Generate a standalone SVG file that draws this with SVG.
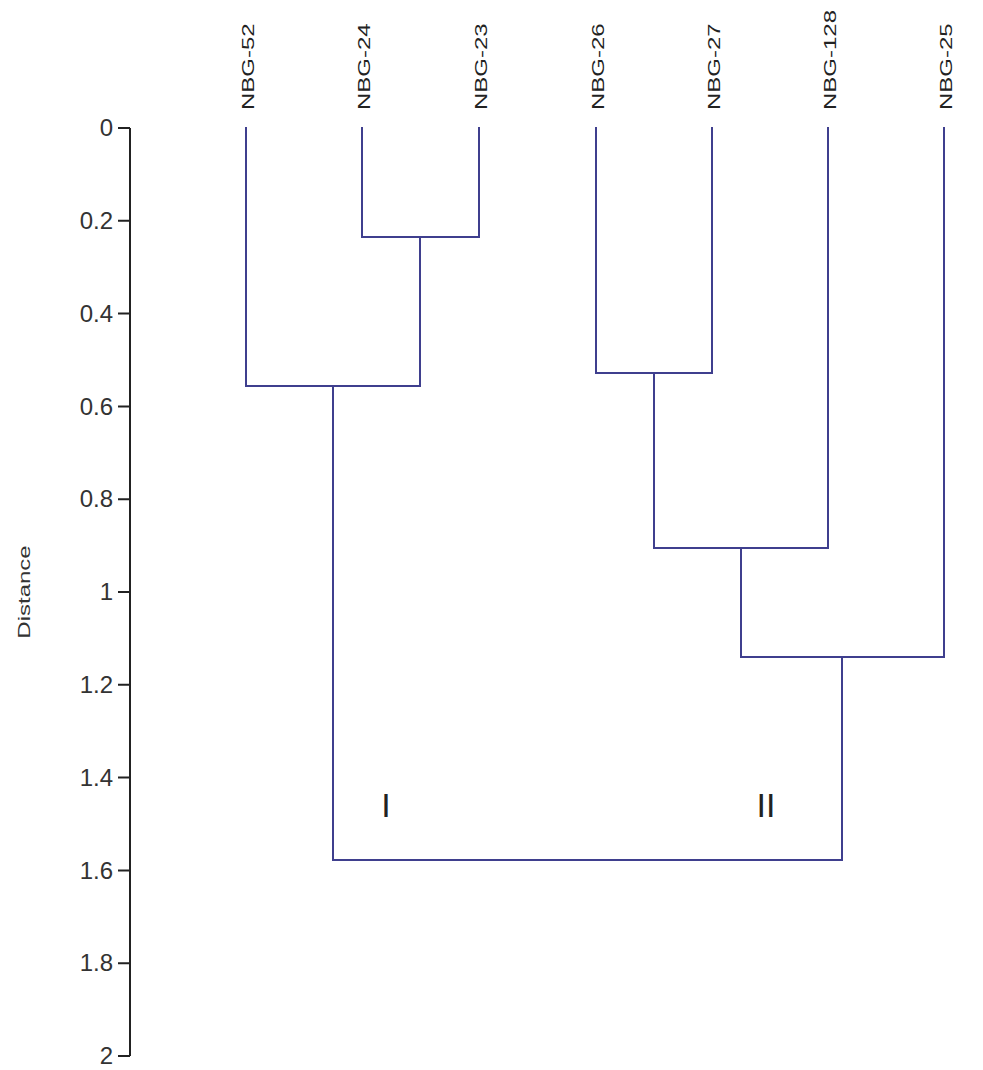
<svg xmlns="http://www.w3.org/2000/svg" width="983" height="1070" viewBox="0 0 983 1070">
<style>
.axis{stroke:#222;stroke-width:2;fill:none}
.tick{font-family:"Liberation Sans",Arial,sans-serif;font-size:24px;fill:#333;text-anchor:end}
.leaf{font-family:"Liberation Sans",Arial,sans-serif;font-size:24px;fill:#222;text-anchor:start}
.br{stroke:#3f3f8e;stroke-width:2;fill:none;stroke-linecap:square}
.roman{font-family:"Liberation Sans",Arial,sans-serif;font-size:34px;fill:#222;text-anchor:middle}
</style>
<rect width="983" height="1070" fill="#fff"/>
<g id="axis">
<path class="axis" d="M130 128V1056M118 128H130M118 220.8H130M118 313.6H130M118 406.4H130M118 499.2H130M118 592H130M118 684.8H130M118 777.6H130M118 870.4H130M118 963.2H130M118 1056H130"/>
<text class="tick" x="113" y="136">0</text>
<text class="tick" x="113" y="229">0.2</text>
<text class="tick" x="113" y="322">0.4</text>
<text class="tick" x="113" y="415">0.6</text>
<text class="tick" x="113" y="507">0.8</text>
<text class="tick" x="113" y="600">1</text>
<text class="tick" x="113" y="693">1.2</text>
<text class="tick" x="113" y="786">1.4</text>
<text class="tick" x="113" y="879">1.6</text>
<text class="tick" x="113" y="971">1.8</text>
<text class="tick" x="113" y="1064">2</text>
<text transform="translate(30,592) scale(0.7,1) rotate(-90)" style="font-family:'Liberation Sans',Arial,sans-serif;font-size:24px;fill:#333;text-anchor:middle">Distance</text>
</g>
<g id="leaf-NBG-52"><text class="leaf" transform="translate(253.5,110) scale(0.7,1) rotate(-90)">NBG-52</text></g>
<g id="leaf-NBG-24"><text class="leaf" transform="translate(369.5,110) scale(0.7,1) rotate(-90)">NBG-24</text></g>
<g id="leaf-NBG-23"><text class="leaf" transform="translate(486.5,110) scale(0.7,1) rotate(-90)">NBG-23</text></g>
<g id="leaf-NBG-26"><text class="leaf" transform="translate(603.5,110) scale(0.7,1) rotate(-90)">NBG-26</text></g>
<g id="leaf-NBG-27"><text class="leaf" transform="translate(719.5,110) scale(0.7,1) rotate(-90)">NBG-27</text></g>
<g id="leaf-NBG-128"><text class="leaf" transform="translate(835.5,110) scale(0.7,1) rotate(-90)">NBG-128</text></g>
<g id="leaf-NBG-25"><text class="leaf" transform="translate(951.5,110) scale(0.7,1) rotate(-90)">NBG-25</text></g>
<g id="connectors">
<path class="br" d="M362 128V237H479V128"/>
<path class="br" d="M246 128V386H420V237"/>
<path class="br" d="M596 128V373H712V128"/>
<path class="br" d="M654 373V548H828V128"/>
<path class="br" d="M741 548V657H944V128"/>
<path class="br" d="M333 386V860H842V657"/>
</g>
<g id="labels">
<text class="roman" x="386" y="817">I</text>
<text class="roman" x="766" y="817">II</text>
</g>
</svg>
